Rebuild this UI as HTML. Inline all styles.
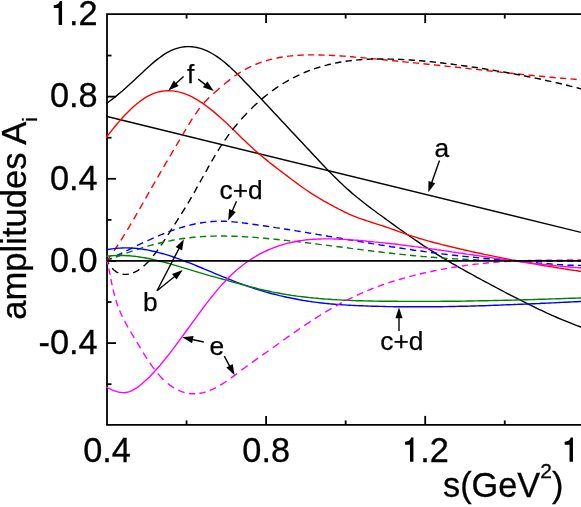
<!DOCTYPE html>
<html><head><meta charset="utf-8">
<style>
html,body{margin:0;padding:0;background:#fff;}
body{width:581px;height:507px;overflow:hidden;position:relative;}
svg{position:absolute;left:0;top:0;display:block;will-change:transform;}
text{font-family:"Liberation Sans",sans-serif;fill:#000;}
.t{font-size:34.3px;}
.l{font-size:26.3px;}
</style></head><body>
<svg width="581" height="507" viewBox="0 0 581 507">
<rect width="581" height="507" fill="#fff"/>
<g stroke="#000" stroke-width="1.8" fill="none">
<path d="M590,14.1 L107,14.1 L107,424.9 L590,424.9"/>
<line x1="107.0" y1="384.19" x2="111.5" y2="384.19"/>
<line x1="107.0" y1="343.11" x2="116.0" y2="343.11"/>
<line x1="107.0" y1="302.03" x2="111.5" y2="302.03"/>
<line x1="107.0" y1="260.95" x2="116.0" y2="260.95"/>
<line x1="107.0" y1="219.87" x2="111.5" y2="219.87"/>
<line x1="107.0" y1="178.79" x2="116.0" y2="178.79"/>
<line x1="107.0" y1="137.71" x2="111.5" y2="137.71"/>
<line x1="107.0" y1="96.63" x2="116.0" y2="96.63"/>
<line x1="107.0" y1="55.55" x2="111.5" y2="55.55"/>
<line x1="186.55" y1="14.1" x2="186.55" y2="18.6"/>
<line x1="186.55" y1="424.9" x2="186.55" y2="420.4"/>
<line x1="266.10" y1="14.1" x2="266.10" y2="23.1"/>
<line x1="266.10" y1="424.9" x2="266.10" y2="415.9"/>
<line x1="345.65" y1="14.1" x2="345.65" y2="18.6"/>
<line x1="345.65" y1="424.9" x2="345.65" y2="420.4"/>
<line x1="425.20" y1="14.1" x2="425.20" y2="23.1"/>
<line x1="425.20" y1="424.9" x2="425.20" y2="415.9"/>
<line x1="504.75" y1="14.1" x2="504.75" y2="18.6"/>
<line x1="504.75" y1="424.9" x2="504.75" y2="420.4"/>
</g>
<g>
<path d="M106.1,116.28 L581.0,232.4" fill="none" stroke="#000000" stroke-width="1.4"/>
<path d="M106.1,103.9 L107.0,103.2 L109.5,101.3 L112.0,99.4 L114.5,97.5 L117.0,95.4 L119.5,93.3 L122.0,91.2 L124.5,89.0 L127.0,86.8 L129.5,84.5 L132.0,82.2 L134.5,79.9 L137.0,77.6 L139.5,75.2 L142.0,72.9 L144.5,70.5 L147.0,68.2 L149.5,66.0 L152.0,63.8 L154.5,61.6 L157.0,59.6 L159.5,57.7 L162.0,55.9 L164.5,54.2 L167.0,52.7 L169.5,51.3 L172.0,50.1 L174.5,49.1 L177.0,48.3 L179.5,47.6 L182.0,47.1 L184.5,46.8 L187.0,46.6 L189.5,46.6 L192.0,46.8 L194.5,47.1 L197.0,47.5 L199.5,48.2 L202.0,48.9 L204.5,49.9 L207.0,50.9 L209.5,52.1 L212.0,53.5 L214.5,55.0 L217.0,56.6 L219.5,58.4 L222.0,60.3 L224.5,62.3 L227.0,64.4 L229.5,66.6 L232.0,68.9 L234.5,71.3 L237.0,73.7 L239.5,76.2 L242.0,78.8 L244.5,81.4 L247.0,84.0 L249.5,86.6 L252.0,89.2 L254.5,91.8 L257.0,94.5 L259.5,97.1 L262.0,99.8 L264.5,102.5 L267.0,105.1 L269.5,107.8 L272.0,110.5 L274.5,113.2 L277.0,115.8 L279.5,118.5 L282.0,121.2 L284.5,123.8 L287.0,126.5 L289.5,129.2 L292.0,131.9 L294.5,134.5 L297.0,137.2 L299.5,139.9 L302.0,142.6 L304.5,145.2 L307.0,147.9 L309.5,150.6 L312.0,153.3 L314.5,156.0 L317.0,158.6 L319.5,161.3 L322.0,163.9 L324.5,166.6 L327.0,169.2 L329.5,171.7 L332.0,174.3 L334.5,176.8 L337.0,179.3 L339.5,181.7 L342.0,184.1 L344.5,186.4 L347.0,188.7 L349.5,190.9 L352.0,193.1 L354.5,195.2 L357.0,197.3 L359.5,199.3 L362.0,201.3 L364.5,203.3 L367.0,205.2 L369.5,207.1 L372.0,209.0 L374.5,210.8 L377.0,212.7 L379.5,214.5 L382.0,216.3 L384.5,218.1 L387.0,220.0 L389.5,221.8 L392.0,223.6 L394.5,225.4 L397.0,227.2 L399.5,229.0 L402.0,230.7 L404.5,232.5 L407.0,234.3 L409.5,236.0 L412.0,237.8 L414.5,239.5 L417.0,241.2 L419.5,242.9 L422.0,244.6 L424.5,246.3 L427.0,247.9 L429.5,249.5 L432.0,251.1 L434.5,252.7 L437.0,254.3 L439.5,255.8 L442.0,257.3 L444.5,258.8 L447.0,260.3 L449.5,261.8 L452.0,263.3 L454.5,264.7 L457.0,266.2 L459.5,267.6 L462.0,269.0 L464.5,270.4 L467.0,271.8 L469.5,273.2 L472.0,274.5 L474.5,275.9 L477.0,277.3 L479.5,278.6 L482.0,280.0 L484.5,281.3 L487.0,282.7 L489.5,284.0 L492.0,285.4 L494.5,286.7 L497.0,288.0 L499.5,289.3 L502.0,290.6 L504.5,292.0 L507.0,293.3 L509.5,294.6 L512.0,295.8 L514.5,297.1 L517.0,298.4 L519.5,299.7 L522.0,300.9 L524.5,302.2 L527.0,303.5 L529.5,304.7 L532.0,305.9 L534.5,307.1 L537.0,308.4 L539.5,309.6 L542.0,310.7 L544.5,311.9 L547.0,313.1 L549.5,314.2 L552.0,315.3 L554.5,316.4 L557.0,317.5 L559.5,318.6 L562.0,319.7 L564.5,320.7 L567.0,321.7 L569.5,322.7 L572.0,323.7 L574.5,324.6 L577.0,325.6 L579.5,326.5 L582.0,327.4" fill="none" stroke="#000000" stroke-width="1.4"/>
<path d="M106.1,137.7 L107.0,136.5 L109.5,133.3 L112.0,130.1 L114.5,127.0 L117.0,124.0 L119.5,121.1 L122.0,118.3 L124.5,115.6 L127.0,112.9 L129.5,110.4 L132.0,108.0 L134.5,105.8 L137.0,103.7 L139.5,101.7 L142.0,99.9 L144.5,98.2 L147.0,96.7 L149.5,95.3 L152.0,94.2 L154.5,93.2 L157.0,92.4 L159.5,91.7 L162.0,91.2 L164.5,90.9 L167.0,90.7 L169.5,90.7 L172.0,90.9 L174.5,91.1 L177.0,91.6 L179.5,92.1 L182.0,92.8 L184.5,93.7 L187.0,94.6 L189.5,95.7 L192.0,96.9 L194.5,98.3 L197.0,99.7 L199.5,101.3 L202.0,102.9 L204.5,104.6 L207.0,106.5 L209.5,108.4 L212.0,110.4 L214.5,112.4 L217.0,114.6 L219.5,116.8 L222.0,119.0 L224.5,121.3 L227.0,123.6 L229.5,126.0 L232.0,128.4 L234.5,130.8 L237.0,133.3 L239.5,135.7 L242.0,138.2 L244.5,140.6 L247.0,143.0 L249.5,145.3 L252.0,147.6 L254.5,149.9 L257.0,152.1 L259.5,154.2 L262.0,156.3 L264.5,158.4 L267.0,160.4 L269.5,162.5 L272.0,164.4 L274.5,166.4 L277.0,168.3 L279.5,170.2 L282.0,172.1 L284.5,174.0 L287.0,175.9 L289.5,177.8 L292.0,179.7 L294.5,181.5 L297.0,183.4 L299.5,185.2 L302.0,187.0 L304.5,188.8 L307.0,190.5 L309.5,192.2 L312.0,193.8 L314.5,195.4 L317.0,196.9 L319.5,198.4 L322.0,199.8 L324.5,201.3 L327.0,202.7 L329.5,204.1 L332.0,205.4 L334.5,206.8 L337.0,208.1 L339.5,209.5 L342.0,210.7 L344.5,212.0 L347.0,213.2 L349.5,214.3 L352.0,215.4 L354.5,216.4 L357.0,217.3 L359.5,218.3 L362.0,219.2 L364.5,220.0 L367.0,220.9 L369.5,221.7 L372.0,222.5 L374.5,223.3 L377.0,224.1 L379.5,224.9 L382.0,225.7 L384.5,226.5 L387.0,227.4 L389.5,228.2 L392.0,229.1 L394.5,230.0 L397.0,230.9 L399.5,231.8 L402.0,232.7 L404.5,233.5 L407.0,234.4 L409.5,235.3 L412.0,236.1 L414.5,236.9 L417.0,237.7 L419.5,238.5 L422.0,239.2 L424.5,239.9 L427.0,240.6 L429.5,241.3 L432.0,242.0 L434.5,242.7 L437.0,243.3 L439.5,243.9 L442.0,244.6 L444.5,245.2 L447.0,245.8 L449.5,246.4 L452.0,247.0 L454.5,247.6 L457.0,248.2 L459.5,248.8 L462.0,249.4 L464.5,250.0 L467.0,250.5 L469.5,251.1 L472.0,251.7 L474.5,252.2 L477.0,252.8 L479.5,253.3 L482.0,253.8 L484.5,254.4 L487.0,254.9 L489.5,255.4 L492.0,255.9 L494.5,256.4 L497.0,256.9 L499.5,257.4 L502.0,257.9 L504.5,258.4 L507.0,258.9 L509.5,259.4 L512.0,259.9 L514.5,260.3 L517.0,260.8 L519.5,261.3 L522.0,261.7 L524.5,262.2 L527.0,262.6 L529.5,263.1 L532.0,263.5 L534.5,263.9 L537.0,264.4 L539.5,264.8 L542.0,265.2 L544.5,265.7 L547.0,266.1 L549.5,266.5 L552.0,266.9 L554.5,267.3 L557.0,267.7 L559.5,268.1 L562.0,268.5 L564.5,268.9 L567.0,269.3 L569.5,269.7 L572.0,270.0 L574.5,270.4 L577.0,270.8 L579.5,271.2 L582.0,271.5" fill="none" stroke="#ff0000" stroke-width="1.4"/>
<path d="M107.0,260.5 L108.4,258.7 L109.7,256.9 L111.0,255.1 M114.0,250.9 L115.4,248.8 L116.8,246.7 L118.2,244.6 M120.9,240.4 L122.2,238.3 L123.5,236.2 L124.8,234.1 M127.4,229.9 L128.6,227.8 L129.9,225.7 L131.1,223.6 M133.6,219.4 L134.8,217.3 L136.0,215.2 L137.2,213.1 M139.6,208.9 L140.8,206.8 L142.0,204.7 L143.2,202.6 M145.6,198.4 L146.8,196.3 L148.0,194.2 L149.1,192.1 M151.5,187.9 L152.7,185.8 L154.0,183.7 L155.2,181.6 M157.6,177.4 L158.8,175.3 L160.0,173.2 L161.2,171.1 M163.7,166.9 L164.9,164.8 L166.1,162.7 L167.4,160.6 M169.8,156.4 L171.1,154.3 L172.3,152.2 L173.6,150.1 M176.0,145.9 L177.3,143.8 L178.5,141.7 L179.8,139.6 M182.2,135.4 L183.5,133.3 L184.7,131.2 L186.0,129.1 M188.5,124.9 L189.8,122.8 L191.1,120.7 L192.4,118.6 M195.2,114.4 L196.7,112.3 L198.2,110.2 L199.7,108.1 M203.2,103.9 L205.1,101.8 L207.1,99.7 L209.2,97.6 M213.4,93.7 L215.5,91.8 L217.6,90.0 L219.7,88.1 M223.9,84.5 L226.0,82.8 L228.1,81.1 L230.2,79.4 M234.4,76.3 L236.5,74.8 L238.6,73.4 L240.7,72.0 M244.9,69.6 L247.0,68.4 L249.1,67.4 L251.2,66.4 M255.4,64.5 L257.5,63.7 L259.6,62.9 L261.7,62.2 M265.9,60.8 L268.0,60.2 L270.1,59.6 L272.2,59.1 M276.4,58.1 L278.5,57.7 L280.6,57.3 L282.7,57.0 M286.9,56.4 L289.0,56.1 L291.1,55.9 L293.2,55.7 M297.4,55.4 L299.5,55.2 L301.6,55.1 L303.7,55.0 M307.9,54.9 L310.0,54.9 L312.1,54.9 L314.2,54.9 M318.4,55.0 L320.5,55.0 L322.6,55.1 L324.7,55.1 M328.9,55.3 L331.0,55.4 L333.1,55.5 L335.2,55.6 M339.4,55.9 L341.5,56.0 L343.6,56.1 L345.7,56.3 M349.9,56.6 L352.0,56.8 L354.1,57.0 L356.2,57.1 M360.4,57.5 L362.5,57.7 L364.6,57.9 L366.7,58.1 M370.9,58.5 L373.0,58.7 L375.1,58.9 L377.2,59.1 M381.4,59.6 L383.5,59.8 L385.6,60.0 L387.7,60.2 M391.9,60.6 L394.0,60.8 L396.1,61.0 L398.2,61.2 M402.4,61.7 L404.5,61.9 L406.6,62.1 L408.7,62.3 M412.9,62.7 L415.0,62.9 L417.1,63.1 L419.2,63.3 M423.4,63.8 L425.5,64.0 L427.6,64.2 L429.7,64.4 M433.9,64.8 L436.0,65.1 L438.1,65.3 L440.2,65.5 M444.4,65.9 L446.5,66.2 L448.6,66.4 L450.7,66.6 M454.9,67.0 L457.0,67.3 L459.1,67.5 L461.2,67.7 M465.4,68.2 L467.5,68.4 L469.6,68.7 L471.7,68.9 M475.9,69.4 L478.0,69.6 L480.1,69.8 L482.2,70.1 M486.4,70.5 L488.5,70.8 L490.6,71.0 L492.7,71.2 M496.9,71.7 L499.0,71.9 L501.1,72.2 L503.2,72.4 M507.4,72.9 L509.5,73.1 L511.6,73.3 L513.7,73.5 M517.9,74.0 L520.0,74.2 L522.1,74.4 L524.2,74.7 M528.4,75.1 L530.5,75.3 L532.6,75.5 L534.7,75.7 M538.9,76.1 L541.0,76.3 L543.1,76.5 L545.2,76.7 M549.4,77.1 L551.5,77.3 L553.6,77.5 L555.7,77.7 M559.9,78.1 L562.0,78.2 L564.1,78.4 L566.2,78.6 M570.4,78.9 L572.5,79.1 L574.6,79.2 L576.7,79.4 M580.9,79.7 L582.9,79.8" fill="none" stroke="#ff0000" stroke-width="1.4"/>
<path d="M107.0,261.0 L107.9,262.5 L108.9,264.1 M112.1,268.3 L114.2,270.3 L116.3,271.8 L118.4,273.0 M122.6,274.2 L124.7,274.4 L126.8,274.4 L128.9,274.1 M133.1,272.8 L135.2,271.9 L137.3,270.8 L139.4,269.4 M143.6,266.2 L145.7,264.3 L147.8,262.2 L149.7,260.1 M153.2,255.9 L154.9,253.8 L156.5,251.7 L158.0,249.6 M160.9,245.4 L162.4,243.3 L163.8,241.2 L165.2,239.1 M167.9,234.9 L169.3,232.8 L170.6,230.7 L172.0,228.6 M174.7,224.4 L176.0,222.3 L177.4,220.2 L178.7,218.1 M181.4,213.9 L182.7,211.8 L184.0,209.7 L185.3,207.6 M187.9,203.4 L189.1,201.3 L190.4,199.2 L191.6,197.1 M194.0,192.9 L195.2,190.8 L196.3,188.7 L197.5,186.6 M199.9,182.4 L201.0,180.3 L202.2,178.2 L203.3,176.1 M205.7,171.9 L206.9,169.8 L208.0,167.7 L209.2,165.6 M211.6,161.4 L212.8,159.3 L214.1,157.2 L215.3,155.1 M217.9,150.9 L219.2,148.8 L220.5,146.7 L221.9,144.6 M224.7,140.4 L226.2,138.3 L227.7,136.2 L229.2,134.1 M232.4,129.9 L234.1,127.8 L235.8,125.7 L237.5,123.6 M241.2,119.4 L243.0,117.3 L245.0,115.2 L247.0,113.1 M251.1,108.9 L253.2,106.8 L255.3,104.8 L257.4,102.9 M261.6,99.2 L263.7,97.4 L265.8,95.7 L267.9,94.1 M272.1,90.9 L274.2,89.4 L276.3,87.9 L278.4,86.5 M282.6,83.8 L284.7,82.5 L286.8,81.3 L288.9,80.1 M293.1,77.9 L295.2,76.8 L297.3,75.8 L299.4,74.8 M303.6,72.9 L305.7,72.0 L307.8,71.2 L309.9,70.4 M314.1,68.9 L316.2,68.1 L318.3,67.5 L320.4,66.8 M324.6,65.6 L326.7,65.1 L328.8,64.5 L330.9,64.1 M335.1,63.1 L337.2,62.7 L339.3,62.3 L341.4,62.0 M345.6,61.3 L347.7,61.0 L349.8,60.8 L351.9,60.5 M356.1,60.1 L358.2,59.9 L360.3,59.7 L362.4,59.6 M366.6,59.3 L368.7,59.2 L370.8,59.1 L372.9,59.1 M377.1,59.0 L379.2,59.0 L381.3,59.0 L383.4,59.0 M387.6,59.0 L389.7,59.1 L391.8,59.1 L393.9,59.2 M398.1,59.3 L400.2,59.4 L402.3,59.5 L404.4,59.6 M408.6,59.9 L410.7,60.0 L412.8,60.2 L414.9,60.3 M419.1,60.7 L421.2,60.8 L423.3,61.0 L425.4,61.2 M429.6,61.6 L431.7,61.8 L433.8,62.1 L435.9,62.3 M440.1,62.8 L442.2,63.0 L444.3,63.3 L446.4,63.5 M450.6,64.0 L452.7,64.3 L454.8,64.6 L456.9,64.9 M461.1,65.4 L463.2,65.7 L465.3,66.0 L467.4,66.3 M471.6,66.9 L473.7,67.2 L475.8,67.5 L477.9,67.8 M482.1,68.5 L484.2,68.8 L486.3,69.1 L488.4,69.5 M492.6,70.2 L494.7,70.5 L496.8,70.9 L498.9,71.2 M503.1,71.9 L505.2,72.3 L507.3,72.7 L509.4,73.1 M513.6,73.8 L515.7,74.2 L517.8,74.6 L519.9,75.0 M524.1,75.8 L526.2,76.3 L528.3,76.7 L530.4,77.1 M534.6,78.0 L536.7,78.4 L538.8,78.8 L540.9,79.3 M545.1,80.2 L547.2,80.7 L549.3,81.1 L551.4,81.6 M555.6,82.6 L557.7,83.0 L559.8,83.5 L561.9,84.0 M566.1,85.0 L568.2,85.5 L570.3,86.1 L572.4,86.6 M576.6,87.6 L578.7,88.2 L580.8,88.7 L582.9,89.3" fill="none" stroke="#000000" stroke-width="1.4"/>
<path d="M107.0,260.5 L108.6,259.7 L110.1,258.9 L111.7,258.2 M115.9,256.1 L118.0,255.0 L120.1,254.0 L122.2,252.9 M126.4,250.8 L128.5,249.8 L130.6,248.8 L132.7,247.7 M136.9,245.7 L139.0,244.7 L141.1,243.7 L143.2,242.7 M147.4,240.7 L149.5,239.8 L151.6,238.8 L153.7,237.9 M157.9,236.1 L160.0,235.2 L162.1,234.4 L164.2,233.5 M168.4,231.9 L170.5,231.1 L172.6,230.4 L174.7,229.6 M178.9,228.2 L181.0,227.6 L183.1,227.0 L185.2,226.4 M189.4,225.3 L191.5,224.7 L193.6,224.3 L195.7,223.8 M199.9,223.0 L202.0,222.7 L204.1,222.4 L206.2,222.1 M210.4,221.7 L212.5,221.5 L214.6,221.4 L216.7,221.3 M220.9,221.2 L223.0,221.3 L225.1,221.3 L227.2,221.4 M231.4,221.7 L233.5,221.9 L235.6,222.1 L237.7,222.3 M241.9,222.8 L244.0,223.1 L246.1,223.3 L248.2,223.6 M252.4,224.2 L254.5,224.5 L256.6,224.8 L258.7,225.1 M262.9,225.7 L265.0,226.0 L267.1,226.3 L269.2,226.6 M273.4,227.2 L275.5,227.6 L277.6,227.9 L279.7,228.2 M283.9,228.9 L286.0,229.2 L288.1,229.5 L290.2,229.9 M294.4,230.5 L296.5,230.9 L298.6,231.2 L300.7,231.6 M304.9,232.3 L307.0,232.6 L309.1,233.0 L311.2,233.3 M315.4,234.0 L317.5,234.4 L319.6,234.7 L321.7,235.1 M325.9,235.8 L328.0,236.2 L330.1,236.5 L332.2,236.9 M336.4,237.6 L338.5,237.9 L340.6,238.3 L342.7,238.7 M346.9,239.4 L349.0,239.7 L351.1,240.1 L353.2,240.4 M357.4,241.1 L359.5,241.5 L361.6,241.8 L363.7,242.2 M367.9,242.9 L370.0,243.2 L372.1,243.6 L374.2,243.9 M378.4,244.6 L380.5,245.0 L382.6,245.3 L384.7,245.6 M388.9,246.3 L391.0,246.7 L393.1,247.0 L395.2,247.3 M399.4,248.0 L401.5,248.3 L403.6,248.6 L405.7,248.9 M409.9,249.5 L412.0,249.8 L414.1,250.2 L416.2,250.5 M420.4,251.0 L422.5,251.3 L424.6,251.6 L426.7,251.9 M430.9,252.5 L433.0,252.8 L435.1,253.0 L437.2,253.3 M441.4,253.8 L443.5,254.1 L445.6,254.3 L447.7,254.6 M451.9,255.1 L454.0,255.3 L456.1,255.5 L458.2,255.7 M462.4,256.2 L464.5,256.4 L466.6,256.6 L468.7,256.8 M472.9,257.2 L475.0,257.4 L477.1,257.6 L479.2,257.8 M483.4,258.2 L485.5,258.4 L487.6,258.6 L489.7,258.7 M493.9,259.1 L496.0,259.3 L498.1,259.5 L500.2,259.6 M504.4,260.0 L506.5,260.2 L508.6,260.4 L510.7,260.5 M514.9,260.9 L517.0,261.1 L519.1,261.3 L521.2,261.5 M525.4,261.8 L527.5,262.0 L529.6,262.2 L531.7,262.4 M535.9,262.8 L538.0,263.0 L540.1,263.1 L542.2,263.3 M546.4,263.7 L548.5,263.8 L550.6,264.0 L552.7,264.2 M556.9,264.5 L559.0,264.6 L561.1,264.7 L563.2,264.8 M567.4,265.1 L569.5,265.2 L571.6,265.2 L573.7,265.3 M577.9,265.4 L579.6,265.4 L581.2,265.5 L582.9,265.5" fill="none" stroke="#0000ff" stroke-width="1.4"/>
<path d="M107.0,260.7 L108.6,260.1 L110.1,259.4 L111.7,258.8 M115.9,257.1 L118.0,256.3 L120.1,255.5 L122.2,254.7 M126.4,253.1 L128.5,252.4 L130.6,251.6 L132.7,250.9 M136.9,249.5 L139.0,248.8 L141.1,248.2 L143.2,247.5 M147.4,246.3 L149.5,245.7 L151.6,245.1 L153.7,244.5 M157.9,243.5 L160.0,243.0 L162.1,242.5 L164.2,242.0 M168.4,241.1 L170.5,240.7 L172.6,240.2 L174.7,239.9 M178.9,239.1 L181.0,238.8 L183.1,238.5 L185.2,238.2 M189.4,237.7 L191.5,237.5 L193.6,237.3 L195.7,237.1 M199.9,236.7 L202.0,236.6 L204.1,236.5 L206.2,236.4 M210.4,236.2 L212.5,236.1 L214.6,236.1 L216.7,236.0 M220.9,236.0 L223.0,236.0 L225.1,236.0 L227.2,236.1 M231.4,236.2 L233.5,236.2 L235.6,236.3 L237.7,236.4 M241.9,236.6 L244.0,236.7 L246.1,236.9 L248.2,237.0 M252.4,237.3 L254.5,237.4 L256.6,237.6 L258.7,237.8 M262.9,238.1 L265.0,238.3 L267.1,238.5 L269.2,238.7 M273.4,239.1 L275.5,239.3 L277.6,239.5 L279.7,239.7 M283.9,240.2 L286.0,240.4 L288.1,240.6 L290.2,240.9 M294.4,241.3 L296.5,241.6 L298.6,241.8 L300.7,242.1 M304.9,242.6 L307.0,242.8 L309.1,243.1 L311.2,243.3 M315.4,243.8 L317.5,244.1 L319.6,244.4 L321.7,244.6 M325.9,245.1 L328.0,245.4 L330.1,245.7 L332.2,245.9 M336.4,246.5 L338.5,246.7 L340.6,247.0 L342.7,247.3 M346.9,247.8 L349.0,248.1 L351.1,248.4 L353.2,248.6 M357.4,249.2 L359.5,249.4 L361.6,249.7 L363.7,249.9 M367.9,250.5 L370.0,250.7 L372.1,251.0 L374.2,251.2 M378.4,251.8 L380.5,252.0 L382.6,252.3 L384.7,252.5 M388.9,253.0 L391.0,253.2 L393.1,253.5 L395.2,253.7 M399.4,254.2 L401.5,254.4 L403.6,254.6 L405.7,254.8 M409.9,255.3 L412.0,255.5 L414.1,255.7 L416.2,255.9 M420.4,256.3 L422.5,256.5 L424.6,256.6 L426.7,256.8 M430.9,257.2 L433.0,257.3 L435.1,257.5 L437.2,257.7 M441.4,258.0 L443.5,258.1 L445.6,258.3 L447.7,258.4 M451.9,258.6 L454.0,258.8 L456.1,258.9 L458.2,259.0 M462.4,259.2 L464.5,259.3 L466.6,259.4 L468.7,259.5 M472.9,259.7 L475.0,259.8 L477.1,259.9 L479.2,260.0 M483.4,260.1 L485.5,260.2 L487.6,260.3 L489.7,260.3 M493.9,260.5 L496.0,260.5 L498.1,260.6 L500.2,260.6 M504.4,260.7 L506.5,260.8 L508.6,260.8 L510.7,260.8 M514.9,260.9 L517.0,261.0 L519.1,261.0 L521.2,261.0 M525.4,261.1 L527.5,261.1 L529.6,261.1 L531.7,261.1 M535.9,261.2 L538.0,261.2 L540.1,261.2 L542.2,261.2 M546.4,261.2 L548.5,261.3 L550.6,261.3 L552.7,261.3 M556.9,261.3 L559.0,261.3 L561.1,261.3 L563.2,261.3 M567.4,261.3 L569.5,261.3 L571.6,261.3 L573.7,261.3 M577.9,261.3 L579.6,261.3 L581.2,261.3 L582.9,261.3" fill="none" stroke="#008000" stroke-width="1.4"/>
<path d="M106.1,250.0 L107.0,249.8 L109.5,249.3 L112.0,248.9 L114.5,248.6 L117.0,248.3 L119.5,248.1 L122.0,248.0 L124.5,247.9 L127.0,247.9 L129.5,248.0 L132.0,248.1 L134.5,248.3 L137.0,248.5 L139.5,248.8 L142.0,249.1 L144.5,249.5 L147.0,249.9 L149.5,250.4 L152.0,251.0 L154.5,251.5 L157.0,252.1 L159.5,252.8 L162.0,253.5 L164.5,254.2 L167.0,254.9 L169.5,255.7 L172.0,256.5 L174.5,257.4 L177.0,258.3 L179.5,259.2 L182.0,260.1 L184.5,261.0 L187.0,262.0 L189.5,262.9 L192.0,263.9 L194.5,264.9 L197.0,266.0 L199.5,267.0 L202.0,268.0 L204.5,269.1 L207.0,270.1 L209.5,271.2 L212.0,272.2 L214.5,273.3 L217.0,274.3 L219.5,275.3 L222.0,276.4 L224.5,277.4 L227.0,278.4 L229.5,279.4 L232.0,280.4 L234.5,281.4 L237.0,282.4 L239.5,283.3 L242.0,284.2 L244.5,285.1 L247.0,286.0 L249.5,286.9 L252.0,287.7 L254.5,288.5 L257.0,289.3 L259.5,290.1 L262.0,290.8 L264.5,291.6 L267.0,292.3 L269.5,293.0 L272.0,293.7 L274.5,294.3 L277.0,294.9 L279.5,295.6 L282.0,296.1 L284.5,296.7 L287.0,297.3 L289.5,297.8 L292.0,298.3 L294.5,298.8 L297.0,299.3 L299.5,299.8 L302.0,300.2 L304.5,300.6 L307.0,301.0 L309.5,301.4 L312.0,301.8 L314.5,302.1 L317.0,302.4 L319.5,302.7 L322.0,303.0 L324.5,303.3 L327.0,303.5 L329.5,303.8 L332.0,304.0 L334.5,304.2 L337.0,304.4 L339.5,304.6 L342.0,304.8 L344.5,304.9 L347.0,305.1 L349.5,305.2 L352.0,305.4 L354.5,305.5 L357.0,305.6 L359.5,305.7 L362.0,305.8 L364.5,305.9 L367.0,306.0 L369.5,306.1 L372.0,306.2 L374.5,306.2 L377.0,306.3 L379.5,306.4 L382.0,306.4 L384.5,306.5 L387.0,306.6 L389.5,306.6 L392.0,306.6 L394.5,306.7 L397.0,306.7 L399.5,306.7 L402.0,306.8 L404.5,306.8 L407.0,306.8 L409.5,306.8 L412.0,306.8 L414.5,306.8 L417.0,306.8 L419.5,306.8 L422.0,306.8 L424.5,306.8 L427.0,306.8 L429.5,306.8 L432.0,306.8 L434.5,306.8 L437.0,306.7 L439.5,306.7 L442.0,306.7 L444.5,306.6 L447.0,306.6 L449.5,306.5 L452.0,306.5 L454.5,306.5 L457.0,306.4 L459.5,306.3 L462.0,306.3 L464.5,306.2 L467.0,306.2 L469.5,306.1 L472.0,306.0 L474.5,306.0 L477.0,305.9 L479.5,305.8 L482.0,305.7 L484.5,305.7 L487.0,305.6 L489.5,305.5 L492.0,305.4 L494.5,305.3 L497.0,305.2 L499.5,305.1 L502.0,305.0 L504.5,304.9 L507.0,304.8 L509.5,304.7 L512.0,304.6 L514.5,304.5 L517.0,304.4 L519.5,304.3 L522.0,304.2 L524.5,304.1 L527.0,304.0 L529.5,303.9 L532.0,303.8 L534.5,303.7 L537.0,303.6 L539.5,303.5 L542.0,303.3 L544.5,303.2 L547.0,303.1 L549.5,303.0 L552.0,302.9 L554.5,302.8 L557.0,302.6 L559.5,302.5 L562.0,302.4 L564.5,302.3 L567.0,302.2 L569.5,302.0 L572.0,301.9 L574.5,301.8 L577.0,301.7 L579.5,301.5 L582.0,301.4" fill="none" stroke="#0000ff" stroke-width="1.4"/>
<path d="M106.1,256.3 L107.0,256.2 L109.5,255.9 L112.0,255.7 L114.5,255.6 L117.0,255.5 L119.5,255.4 L122.0,255.5 L124.5,255.5 L127.0,255.7 L129.5,255.8 L132.0,256.1 L134.5,256.3 L137.0,256.6 L139.5,257.0 L142.0,257.4 L144.5,257.8 L147.0,258.3 L149.5,258.8 L152.0,259.3 L154.5,259.9 L157.0,260.5 L159.5,261.1 L162.0,261.7 L164.5,262.4 L167.0,263.0 L169.5,263.7 L172.0,264.4 L174.5,265.2 L177.0,265.9 L179.5,266.6 L182.0,267.4 L184.5,268.1 L187.0,268.9 L189.5,269.7 L192.0,270.4 L194.5,271.2 L197.0,271.9 L199.5,272.7 L202.0,273.4 L204.5,274.1 L207.0,274.8 L209.5,275.6 L212.0,276.3 L214.5,276.9 L217.0,277.6 L219.5,278.3 L222.0,279.0 L224.5,279.7 L227.0,280.4 L229.5,281.1 L232.0,281.8 L234.5,282.5 L237.0,283.2 L239.5,283.9 L242.0,284.5 L244.5,285.2 L247.0,285.9 L249.5,286.6 L252.0,287.2 L254.5,287.8 L257.0,288.5 L259.5,289.1 L262.0,289.7 L264.5,290.3 L267.0,290.8 L269.5,291.3 L272.0,291.9 L274.5,292.4 L277.0,292.8 L279.5,293.3 L282.0,293.8 L284.5,294.2 L287.0,294.6 L289.5,295.0 L292.0,295.4 L294.5,295.7 L297.0,296.1 L299.5,296.4 L302.0,296.7 L304.5,297.0 L307.0,297.3 L309.5,297.6 L312.0,297.8 L314.5,298.1 L317.0,298.3 L319.5,298.6 L322.0,298.8 L324.5,299.0 L327.0,299.1 L329.5,299.3 L332.0,299.5 L334.5,299.6 L337.0,299.8 L339.5,299.9 L342.0,300.1 L344.5,300.2 L347.0,300.3 L349.5,300.4 L352.0,300.5 L354.5,300.6 L357.0,300.7 L359.5,300.7 L362.0,300.8 L364.5,300.9 L367.0,300.9 L369.5,301.0 L372.0,301.0 L374.5,301.1 L377.0,301.1 L379.5,301.2 L382.0,301.2 L384.5,301.2 L387.0,301.3 L389.5,301.3 L392.0,301.3 L394.5,301.3 L397.0,301.3 L399.5,301.4 L402.0,301.4 L404.5,301.4 L407.0,301.4 L409.5,301.4 L412.0,301.4 L414.5,301.4 L417.0,301.4 L419.5,301.4 L422.0,301.4 L424.5,301.4 L427.0,301.4 L429.5,301.4 L432.0,301.4 L434.5,301.4 L437.0,301.4 L439.5,301.4 L442.0,301.3 L444.5,301.3 L447.0,301.3 L449.5,301.3 L452.0,301.2 L454.5,301.2 L457.0,301.2 L459.5,301.2 L462.0,301.1 L464.5,301.1 L467.0,301.0 L469.5,301.0 L472.0,301.0 L474.5,300.9 L477.0,300.9 L479.5,300.8 L482.0,300.8 L484.5,300.7 L487.0,300.7 L489.5,300.6 L492.0,300.6 L494.5,300.5 L497.0,300.5 L499.5,300.4 L502.0,300.4 L504.5,300.3 L507.0,300.3 L509.5,300.2 L512.0,300.1 L514.5,300.1 L517.0,300.0 L519.5,299.9 L522.0,299.9 L524.5,299.8 L527.0,299.7 L529.5,299.6 L532.0,299.6 L534.5,299.5 L537.0,299.4 L539.5,299.3 L542.0,299.3 L544.5,299.2 L547.0,299.1 L549.5,299.0 L552.0,298.9 L554.5,298.9 L557.0,298.8 L559.5,298.7 L562.0,298.6 L564.5,298.5 L567.0,298.4 L569.5,298.3 L572.0,298.3 L574.5,298.2 L577.0,298.1 L579.5,298.0 L582.0,297.9" fill="none" stroke="#008000" stroke-width="1.4"/>
<path d="M106.1,387.2 L107.0,387.6 L109.5,388.7 L112.0,389.8 L114.5,390.8 L117.0,391.6 L119.5,392.3 L122.0,392.6 L124.5,392.7 L127.0,392.3 L129.5,391.6 L132.0,390.6 L134.5,389.2 L137.0,387.6 L139.5,385.8 L142.0,383.8 L144.5,381.6 L147.0,379.3 L149.5,376.9 L152.0,374.3 L154.5,371.6 L157.0,368.8 L159.5,366.0 L162.0,363.0 L164.5,359.9 L167.0,356.8 L169.5,353.6 L172.0,350.4 L174.5,347.1 L177.0,343.7 L179.5,340.3 L182.0,336.9 L184.5,333.5 L187.0,330.0 L189.5,326.6 L192.0,323.1 L194.5,319.7 L197.0,316.3 L199.5,312.8 L202.0,309.5 L204.5,306.1 L207.0,302.9 L209.5,299.6 L212.0,296.5 L214.5,293.4 L217.0,290.4 L219.5,287.4 L222.0,284.6 L224.5,281.9 L227.0,279.3 L229.5,276.7 L232.0,274.3 L234.5,272.0 L237.0,269.8 L239.5,267.7 L242.0,265.7 L244.5,263.8 L247.0,262.0 L249.5,260.3 L252.0,258.7 L254.5,257.1 L257.0,255.6 L259.5,254.2 L262.0,252.9 L264.5,251.7 L267.0,250.5 L269.5,249.4 L272.0,248.3 L274.5,247.4 L277.0,246.5 L279.5,245.6 L282.0,244.8 L284.5,244.1 L287.0,243.4 L289.5,242.8 L292.0,242.2 L294.5,241.7 L297.0,241.2 L299.5,240.8 L302.0,240.5 L304.5,240.1 L307.0,239.8 L309.5,239.6 L312.0,239.4 L314.5,239.2 L317.0,239.1 L319.5,239.0 L322.0,238.9 L324.5,238.9 L327.0,238.9 L329.5,238.9 L332.0,238.9 L334.5,239.0 L337.0,239.1 L339.5,239.2 L342.0,239.3 L344.5,239.4 L347.0,239.6 L349.5,239.8 L352.0,239.9 L354.5,240.1 L357.0,240.3 L359.5,240.5 L362.0,240.7 L364.5,240.9 L367.0,241.2 L369.5,241.4 L372.0,241.6 L374.5,241.9 L377.0,242.1 L379.5,242.4 L382.0,242.6 L384.5,242.9 L387.0,243.2 L389.5,243.5 L392.0,243.8 L394.5,244.0 L397.0,244.3 L399.5,244.6 L402.0,245.0 L404.5,245.3 L407.0,245.6 L409.5,245.9 L412.0,246.2 L414.5,246.6 L417.0,246.9 L419.5,247.2 L422.0,247.6 L424.5,247.9 L427.0,248.3 L429.5,248.6 L432.0,249.0 L434.5,249.3 L437.0,249.7 L439.5,250.0 L442.0,250.4 L444.5,250.8 L447.0,251.1 L449.5,251.5 L452.0,251.9 L454.5,252.2 L457.0,252.6 L459.5,253.0 L462.0,253.3 L464.5,253.7 L467.0,254.1 L469.5,254.4 L472.0,254.8 L474.5,255.2 L477.0,255.5 L479.5,255.9 L482.0,256.3 L484.5,256.6 L487.0,257.0 L489.5,257.4 L492.0,257.7 L494.5,258.1 L497.0,258.4 L499.5,258.8 L502.0,259.2 L504.5,259.5 L507.0,259.8 L509.5,260.2 L512.0,260.5 L514.5,260.9 L517.0,261.2 L519.5,261.5 L522.0,261.8 L524.5,262.2 L527.0,262.5 L529.5,262.8 L532.0,263.1 L534.5,263.4 L537.0,263.7 L539.5,264.0 L542.0,264.3 L544.5,264.5 L547.0,264.8 L549.5,265.1 L552.0,265.3 L554.5,265.6 L557.0,265.9 L559.5,266.1 L562.0,266.3 L564.5,266.6 L567.0,266.8 L569.5,267.0 L572.0,267.2 L574.5,267.4 L577.0,267.6 L579.5,267.7 L582.0,267.9" fill="none" stroke="#ff00ff" stroke-width="1.4"/>
<path d="M107.0,260.9 L107.4,262.6 L107.8,264.3 M108.8,268.5 L109.2,270.6 L109.7,272.7 L110.1,274.8 M110.9,279.0 L111.3,281.1 L111.7,283.2 L112.2,285.3 M113.1,289.5 L113.6,291.6 L114.1,293.7 L114.6,295.8 M115.8,300.0 L116.5,302.1 L117.2,304.2 L117.9,306.3 M119.6,310.5 L120.5,312.6 L121.4,314.7 L122.4,316.8 M124.6,321.0 L125.7,323.1 L126.8,325.2 L128.0,327.3 M130.5,331.5 L131.7,333.6 L133.0,335.7 L134.3,337.8 M136.8,342.0 L138.1,344.1 L139.3,346.2 L140.6,348.3 M143.1,352.5 L144.4,354.6 L145.7,356.7 L147.1,358.8 M149.8,363.0 L151.3,365.1 L152.8,367.2 L154.4,369.3 M157.7,373.5 L159.6,375.6 L161.5,377.7 L163.6,379.7 M167.8,383.5 L169.9,385.1 L172.0,386.6 L174.1,388.0 M178.3,390.2 L180.4,391.1 L182.5,391.9 L184.6,392.5 M188.8,393.4 L190.9,393.7 L193.0,393.8 L195.1,393.8 M199.3,393.4 L201.4,393.0 L203.5,392.6 L205.6,392.0 M209.8,390.5 L211.9,389.6 L214.0,388.6 L216.1,387.6 M220.3,385.2 L222.4,383.9 L224.5,382.5 L226.6,381.1 M230.8,378.2 L232.9,376.6 L235.0,375.1 L237.1,373.5 M241.3,370.3 L243.4,368.7 L245.5,367.2 L247.6,365.6 M251.8,362.6 L253.9,361.1 L256.0,359.6 L258.1,358.1 M262.3,355.1 L264.4,353.7 L266.5,352.2 L268.6,350.7 M272.8,347.7 L274.9,346.2 L277.0,344.7 L279.1,343.2 M283.3,340.2 L285.4,338.7 L287.5,337.2 L289.6,335.8 M293.8,332.8 L295.9,331.4 L298.0,329.9 L300.1,328.5 M304.3,325.6 L306.4,324.2 L308.5,322.8 L310.6,321.4 M314.8,318.7 L316.9,317.3 L319.0,316.0 L321.1,314.7 M325.3,312.1 L327.4,310.9 L329.5,309.7 L331.6,308.4 M335.8,306.1 L337.9,304.9 L340.0,303.7 L342.1,302.6 M346.3,300.4 L348.4,299.4 L350.5,298.3 L352.6,297.3 M356.8,295.3 L358.9,294.3 L361.0,293.4 L363.1,292.5 M367.3,290.7 L369.4,289.8 L371.5,289.0 L373.6,288.2 M377.8,286.6 L379.9,285.8 L382.0,285.0 L384.1,284.3 M388.3,282.9 L390.4,282.2 L392.5,281.5 L394.6,280.9 M398.8,279.6 L400.9,279.0 L403.0,278.4 L405.1,277.8 M409.3,276.6 L411.4,276.1 L413.5,275.6 L415.6,275.0 M419.8,274.0 L421.9,273.5 L424.0,273.0 L426.1,272.6 M430.3,271.7 L432.4,271.2 L434.5,270.8 L436.6,270.4 M440.8,269.5 L442.9,269.1 L445.0,268.8 L447.1,268.4 M451.3,267.7 L453.4,267.3 L455.5,267.0 L457.6,266.7 M461.8,266.0 L463.9,265.7 L466.0,265.4 L468.1,265.1 M472.3,264.6 L474.4,264.3 L476.5,264.1 L478.6,263.9 M482.8,263.4 L484.9,263.2 L487.0,263.0 L489.1,262.8 M493.3,262.4 L495.4,262.3 L497.5,262.1 L499.6,261.9 M503.8,261.6 L505.9,261.5 L508.0,261.4 L510.1,261.3 M514.3,261.1 L516.4,261.0 L518.5,260.9 L520.6,260.8 M524.8,260.6 L526.9,260.6 L529.0,260.5 L531.1,260.5 M535.3,260.4 L537.4,260.3 L539.5,260.3 L541.6,260.2 M545.8,260.2 L547.9,260.2 L550.0,260.1 L552.1,260.1 M556.3,260.1 L558.4,260.1 L560.5,260.1 L562.6,260.1 M566.8,260.0 L568.9,260.0 L571.0,260.0 L573.1,260.0 M577.3,260.0 L579.2,260.0 L581.0,260.0 L582.9,260.0" fill="none" stroke="#ff00ff" stroke-width="1.4"/>
</g>
<line x1="107" y1="260.95" x2="581" y2="260.95" stroke="#000" stroke-width="1.8"/>

<line x1="183.6" y1="76.5" x2="174.8" y2="84.6" stroke="#000" stroke-width="1.4"/><polygon points="168.3,90.5 173.8,80.5 178.7,85.9" fill="#000"/>
<line x1="198.2" y1="79.1" x2="206.7" y2="85.6" stroke="#000" stroke-width="1.4"/><polygon points="213.7,91.0 202.9,87.3 207.4,81.5" fill="#000"/>
<line x1="236.5" y1="201.2" x2="231.7" y2="212.3" stroke="#000" stroke-width="1.4"/><polygon points="228.2,220.4 229.1,209.0 235.8,211.9" fill="#000"/>
<line x1="157.0" y1="290.8" x2="179.8" y2="247.0" stroke="#000" stroke-width="1.4"/><polygon points="183.9,239.2 182.1,250.5 175.7,247.1" fill="#000"/>
<line x1="157.0" y1="290.8" x2="175.9" y2="275.5" stroke="#000" stroke-width="1.4"/><polygon points="182.7,270.0 176.6,279.6 172.0,274.0" fill="#000"/>
<line x1="203.8" y1="342.0" x2="190.9" y2="339.2" stroke="#000" stroke-width="1.4"/><polygon points="182.3,337.3 193.6,336.0 192.1,343.2" fill="#000"/>
<line x1="224.3" y1="356.2" x2="230.4" y2="367.6" stroke="#000" stroke-width="1.4"/><polygon points="234.6,375.3 226.3,367.5 232.7,364.1" fill="#000"/>
<line x1="439.5" y1="160.6" x2="431.2" y2="184.0" stroke="#000" stroke-width="1.4"/><polygon points="428.3,192.3 428.5,180.9 435.3,183.3" fill="#000"/>
<line x1="399.0" y1="331.0" x2="399.0" y2="316.3" stroke="#000" stroke-width="1.4"/><polygon points="399.0,307.5 402.6,318.3 395.4,318.3" fill="#000"/>
<g class="t" stroke="#000" stroke-width="0.3">
<path d="M58.65,25.10 L62.08,25.10 L62.08,0.92 L59.80,0.92 Q59.01,4.86 53.76,5.14 L53.76,8.00 L58.65,8.00 Z" fill="#000" stroke="none"/><text x="68.99" y="25.1">.2</text>
<text transform="translate(97.6,107.3) scale(1,1.0)" text-anchor="end">0.8</text>
<text transform="translate(97.6,189.5) scale(1,1.0)" text-anchor="end">0.4</text>
<text transform="translate(97.6,271.6) scale(1,1.0)" text-anchor="end">0.0</text>
<text transform="translate(97.6,353.8) scale(1,1.0)" text-anchor="end">-0.4</text>
<text transform="translate(107,461.8) scale(1,1.0)" text-anchor="middle">0.4</text>
<text transform="translate(266.2,461.8) scale(1,1.0)" text-anchor="middle">0.8</text>
<path d="M409.99,461.80 L413.42,461.80 L413.42,437.62 L411.14,437.62 Q410.35,441.56 405.10,441.84 L405.10,444.70 L409.99,444.70 Z" fill="#000" stroke="none"/><text x="420.33" y="461.8">.2</text>
<path d="M569.53,461.80 L572.96,461.80 L572.96,437.62 L570.68,437.62 Q569.89,441.56 564.64,441.84 L564.64,444.70 L569.53,444.70 Z" fill="#000" stroke="none"/><text x="579.87" y="461.8">.6</text>
<text transform="translate(443,496.8) scale(1,1.0)">s(GeV<tspan font-size="21" dy="-19.3">2</tspan><tspan dy="19.3">)</tspan></text>
<text transform="translate(26.0,319.7) rotate(-90) scale(1,1.0)" font-size="34.6">amplitudes A<tspan font-size="20.5" dy="10.6">i</tspan></text>
</g>
<g class="l" stroke="#000" stroke-width="0.25">
<text transform="translate(187,82.5) scale(1,1.0)" text-anchor="start">f</text>
<text transform="translate(219.5,198.8) scale(1,1.0)" text-anchor="start">c+d</text>
<text transform="translate(434.5,157) scale(1,1.0)" text-anchor="start">a</text>
<text transform="translate(143,311) scale(1,1.0)" text-anchor="start">b</text>
<text transform="translate(209.5,355) scale(1,1.0)" text-anchor="start">e</text>
<text transform="translate(380.3,350.1) scale(1,1.0)" text-anchor="start">c+d</text>
</g>
</svg>
</body></html>
